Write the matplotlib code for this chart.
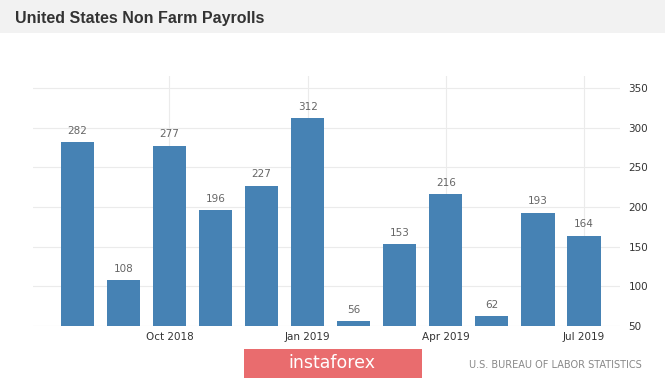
import matplotlib.pyplot as plt
from matplotlib.patches import Rectangle

# Nonfarm payrolls, thousands, Aug 2018 - Jul 2019
months = ['Aug 2018', 'Sep 2018', 'Oct 2018', 'Nov 2018', 'Dec 2018', 'Jan 2019',
          'Feb 2019', 'Mar 2019', 'Apr 2019', 'May 2019', 'Jun 2019', 'Jul 2019']
payrolls = [282, 108, 277, 196, 227, 312, 56, 153, 216, 62, 193, 164]
xtick_labels = ['Oct 2018', 'Jan 2019', 'Apr 2019', 'Jul 2019']
yticks = [50, 100, 150, 200, 250, 300, 350]

W, H = 665, 380
fig = plt.figure(figsize=(W / 100, H / 100), dpi=100)
fig.patch.set_facecolor('white')

# title bar
fig.patches.append(Rectangle((0, 1 - 33 / H), 1, 33 / H, transform=fig.transFigure,
                             facecolor='#f2f2f2', edgecolor='none', zorder=0))
fig.text(15 / W, 1 - 18 / H, 'United States Non Farm Payrolls', fontsize=11.5, fontweight='bold',
         color='#333333', va='center', ha='left', family='Liberation Sans')

ax = fig.add_axes([33 / W, (H - 326) / H, (620 - 33) / W, (326 - 76) / H])
x = list(range(len(months)))
ax.bar(x, payrolls, width=0.72, color='#4682b4', zorder=2)
for xi, v in zip(x, payrolls):
    ax.text(xi, v + 8, str(v), ha='center', va='bottom', fontsize=7.5, color='#666666')

ax.set_xlim(-0.96, 11.78)
ax.set_ylim(50, 365)
ax.set_xticks([months.index(m) for m in xtick_labels])
ax.set_xticklabels(xtick_labels, fontsize=7.5, color='#333333')
ax.set_yticks(yticks)
ax.set_yticklabels([str(t) for t in yticks], fontsize=7.5, color='#333333')
ax.yaxis.tick_right()
ax.tick_params(axis='both', length=0)
ax.tick_params(axis='y', pad=6)
ax.tick_params(axis='x', pad=4)
ax.grid(True, color='#ebebeb', linewidth=0.8, zorder=0)
ax.set_axisbelow(True)
for s in ax.spines.values():
    s.set_visible(False)

# footer
fig.patches.append(Rectangle((244 / W, 1 - 378 / H), 178 / W, 29 / H, transform=fig.transFigure,
                             facecolor='#e96c6e', edgecolor='none'))
fig.text(332 / W, 1 - 363 / H, 'instaforex', fontsize=12.5, color='white', ha='center', va='center')
fig.text(642 / W, 1 - 365 / H, 'U.S. BUREAU OF LABOR STATISTICS', fontsize=7, color='#888888',
         ha='right', va='center')

fig.savefig('out.png', dpi=100)
